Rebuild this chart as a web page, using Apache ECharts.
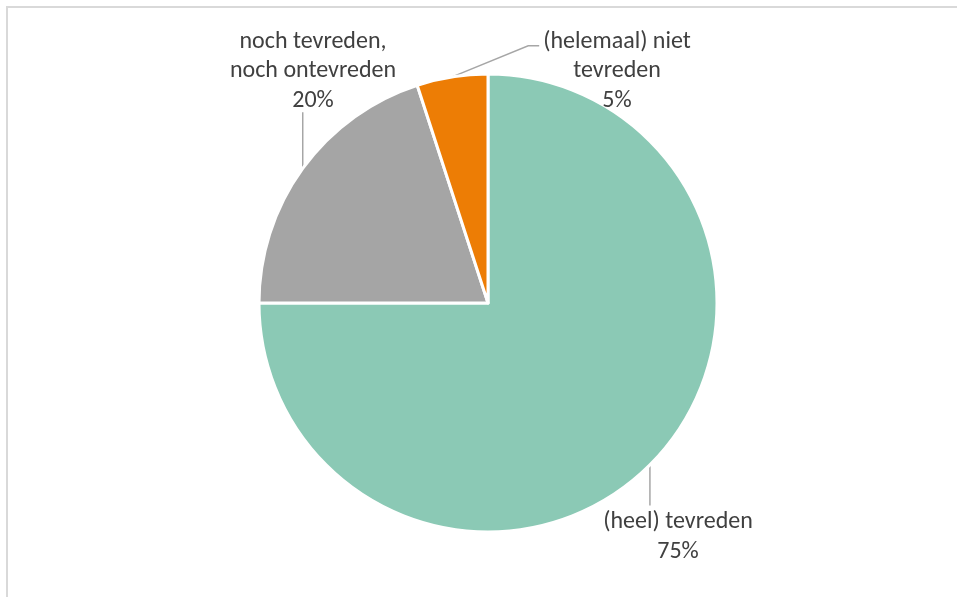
<!DOCTYPE html>
<html>
<head>
<meta charset="utf-8">
<script src="https://cdn.jsdelivr.net/npm/echarts@6/dist/echarts.min.js"></script>
<style>
    html, body { margin: 0; padding: 0; background: #fff; }
    #frame {
        position: absolute; left: 6px; top: 6px; width: 960px; height: 600px;
        border-left: 2px solid #d9d9d9; border-top: 2px solid #d9d9d9;
    }
    #main { position: absolute; left: 0; top: 0; width: 957px; height: 597px; }
</style>
</head>
<body>
<div id="frame"></div>
<div id="main"></div>
<script>
// data
var categories = ['(heel) tevreden', 'noch tevreden,\nnoch ontevreden', '(helemaal) niet\ntevreden'];
var values = [75, 20, 5];
var colors = ['#8bc9b5', '#a5a5a5', '#ed7d05'];

// label placement (centre of the text block) and leader style per slice
var labelSpots = [
    { x: 678, y: 537, line: 'up' },
    { x: 313, y: 71, line: 'down' },
    { x: 617, y: 71, line: 'side' }
];

var fontSize = 24;
var lineH = 29.5;

var chart = echarts.init(document.getElementById('main'));

var option = {
    backgroundColor: 'transparent',
    animation: false,
    color: colors,
    series: [{
        type: 'pie',
        center: [488, 303],
        radius: 229,
        startAngle: 90,
        clockwise: true,
        avoidLabelOverlap: false,
        percentPrecision: 0,
        emphasis: { disabled: true },
        itemStyle: {
            borderColor: '#fff',
            borderWidth: 3
        },
        label: {
            show: true,
            position: 'outside',
            formatter: '{b}\n{d}%',
            color: '#404040',
            fontFamily: 'Carlito, Lato, sans-serif',
            fontSize: fontSize,
            lineHeight: lineH,
            align: 'center'
        },
        labelLine: {
            show: true,
            length: 20,
            length2: 10,
            lineStyle: { color: '#a6a6a6', width: 1.5 }
        },
        labelLayout: function (params) {
            var spot = labelSpots[params.dataIndex];
            var p0 = params.labelLinePoints[0]; // point on the rim at the slice middle
            var h = params.labelRect.height;
            var w = params.labelRect.width;
            var pts;
            if (spot.line === 'up') {
                var top = spot.y - h / 2 - 2;
                pts = [p0, [p0[0], top], [p0[0], top]];
            } else if (spot.line === 'down') {
                var bottom = spot.y + h / 2 - 3;
                pts = [p0, [p0[0], bottom], [p0[0], bottom]];
            } else {
                var left = spot.x - w / 2 - 4;
                var ly = spot.y - h / 2 + 19;
                pts = [p0, [left - 11, ly], [left, ly]];
            }
            return {
                x: spot.x,
                y: spot.y,
                align: 'center',
                verticalAlign: 'middle',
                labelLinePoints: pts
            };
        },
        data: categories.map(function (name, i) {
            return { name: name, value: values[i] };
        })
    }]
};

chart.setOption(option);
</script>
</body>
</html>
